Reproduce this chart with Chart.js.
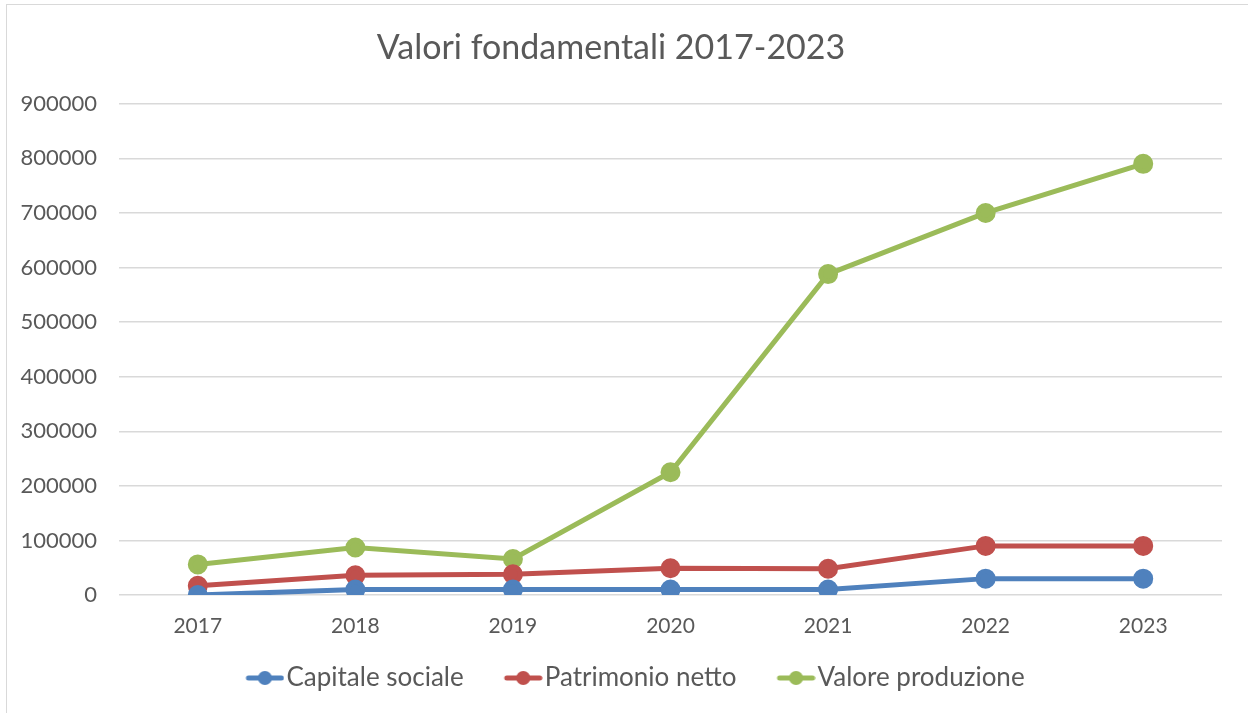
<!DOCTYPE html>
<html lang="it">
<head>
    <meta charset="UTF-8">
    <title>Valori fondamentali 2017-2023</title>
    <script src="https://cdn.jsdelivr.net/npm/chart.js"></script>
    <style>
        body { margin: 0; background: #fff; }
        #frame {
            position: absolute; left: 6px; top: 4px;
            width: 1280px; height: 740px;
            border: 1px solid #d9d9d9;
        }
        #wrap { position: absolute; left: 0; top: 0; width: 1248px; height: 713px; }
    </style>
</head>
<body>
    <div id="frame"></div>
    <div id="wrap"><canvas id="chart"></canvas></div>
    <script>
        // dati
        const anni = ['2017', '2018', '2019', '2020', '2021', '2022', '2023'];
        const capitaleSociale = [0, 10000, 10000, 10000, 10000, 30000, 30000];
        const patrimonioNetto = [17000, 36000, 38000, 49000, 48000, 90000, 90000];
        const valoreProduzione = [56000, 87000, 66000, 225000, 588000, 700000, 790000];

        const testo = '#595959';
        const font = 'Lato, "Open Sans", sans-serif';

        // simbolo legenda: linea con pallino (spostato a destra, vicino al testo)
        function simbolo(colore) {
            const c = document.createElement('canvas');
            c.width = 48; c.height = 16;
            const g = c.getContext('2d');
            g.strokeStyle = colore;
            g.lineWidth = 5;
            g.lineCap = 'round';
            g.beginPath(); g.moveTo(12, 8); g.lineTo(45, 8); g.stroke();
            g.fillStyle = colore;
            g.beginPath(); g.arc(28.5, 8, 7, 0, Math.PI * 2); g.fill();
            return c;
        }

        function serie(label, data, colore) {
            return {
                label: label,
                data: data,
                borderColor: colore,
                backgroundColor: colore,
                borderWidth: 5,
                pointRadius: 7.5,
                pointHoverRadius: 7.5,
                tension: 0,
                legendIcon: simbolo(colore)
            };
        }

        // la legenda sta piu' vicina alle etichette dell'asse x, un po' a destra
        const spostaLegenda = {
            id: 'spostaLegenda',
            afterLayout(chart) {
                const l = chart.legend;
                l.top -= 15;
                l.bottom -= 15;
                l.left += 25;
                l.right += 25;
            }
        };

        new Chart(document.getElementById('chart'), {
            type: 'line',
            data: {
                labels: anni,
                datasets: [
                    serie('Capitale sociale', capitaleSociale, '#4f81bd'),
                    serie('Patrimonio netto', patrimonioNetto, '#c0504d'),
                    serie('Valore produzione', valoreProduzione, '#9bbb59')
                ]
            },
            plugins: [spostaLegenda],
            options: {
                responsive: true,
                maintainAspectRatio: false,
                animation: false,
                events: [],
                layout: { padding: { left: 0, right: 26, top: 0, bottom: 0 } },
                plugins: {
                    title: {
                        display: true,
                        text: 'Valori fondamentali 2017-2023',
                        color: testo,
                        font: { family: font, size: 34, weight: 'normal' },
                        padding: { top: 28, bottom: 35 }
                    },
                    legend: {
                        position: 'bottom',
                        maxHeight: 75,
                        labels: {
                            color: testo,
                            font: { family: font, size: 26 },
                            usePointStyle: true,
                            pointStyleWidth: 26,
                            padding: 42,
                            generateLabels: function (chart) {
                                const items = Chart.defaults.plugins.legend.labels.generateLabels(chart);
                                items.forEach(function (it) {
                                    it.pointStyle = chart.data.datasets[it.datasetIndex].legendIcon;
                                });
                                return items;
                            }
                        }
                    },
                    tooltip: { enabled: false }
                },
                scales: {
                    x: {
                        offset: true,
                        afterFit: function (s) { s.height = 43; },
                        grid: { display: false },
                        border: { display: false },
                        ticks: { color: testo, font: { family: font, size: 21 }, padding: 11 }
                    },
                    y: {
                        min: 0,
                        max: 900000,
                        afterFit: function (s) { s.width = 119; },
                        grid: { color: '#d9d9d9', lineWidth: 1.5, drawTicks: false },
                        border: { display: false },
                        ticks: {
                            stepSize: 100000,
                            color: testo,
                            font: { family: font, size: 22 },
                            padding: 22,
                            callback: function (v) { return String(v); }
                        }
                    }
                }
            }
        });
    </script>
</body>
</html>
